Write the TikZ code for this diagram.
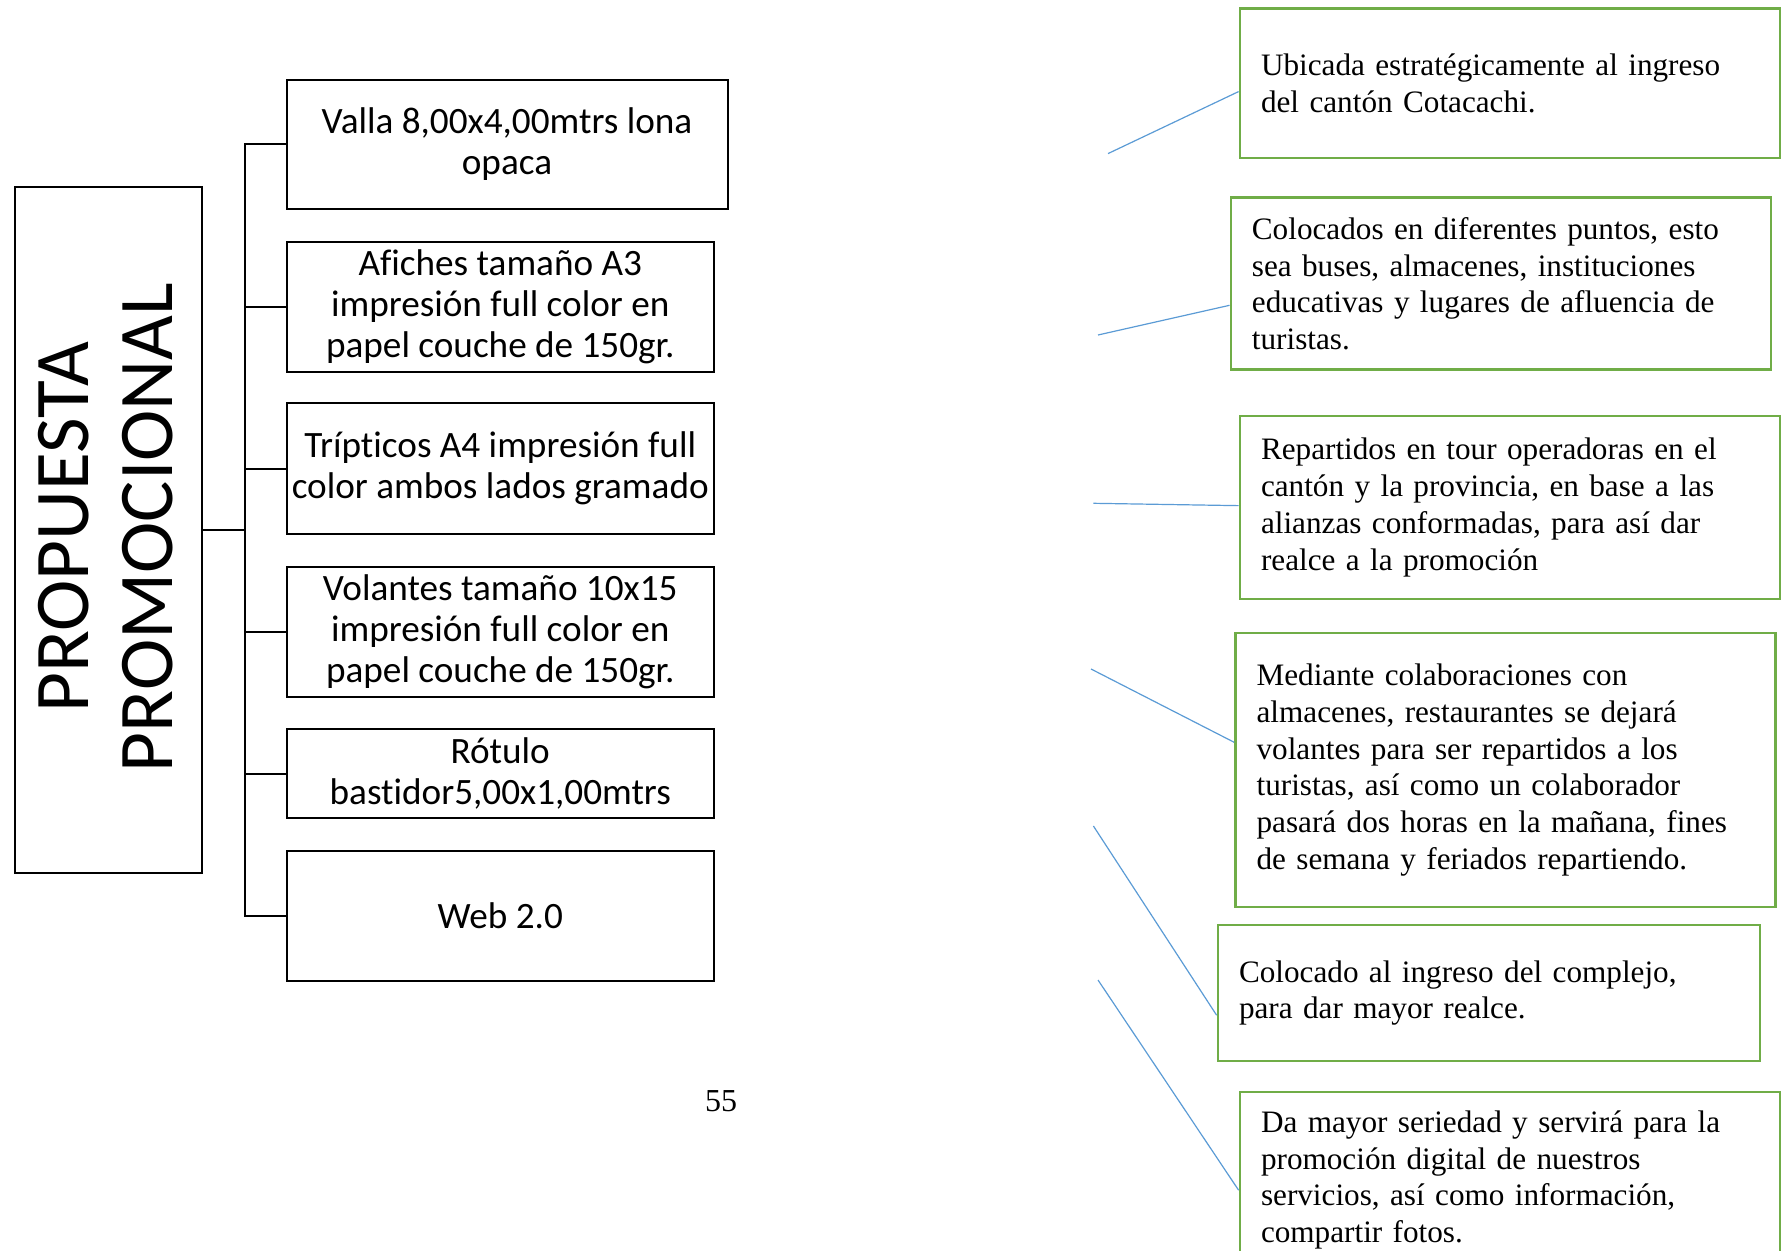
\documentclass[tikz,border=0pt]{standalone}
\usepackage{fontspec}
\setmainfont{Liberation Serif}
\newfontfamily\calibri[Ligatures=NoCommon]{Carlito}
\usetikzlibrary{calc}
\definecolor{notegreen}{RGB}{112,173,71}
\definecolor{leaderblue}{RGB}{91,155,213}
\tikzstyle{itembox} = [draw,line width=1pt,align=center,inner sep=1pt,font=\calibri\fontsize{18.6pt}{20.5pt}\selectfont]
\tikzstyle{notebox} = [draw=notegreen,line width=1.4pt,align=left,inner xsep=10.5pt,inner ysep=2pt,font=\fontsize{15.6pt}{18.35pt}\selectfont]
\tikzstyle{branch} = [line width=1pt]
\tikzstyle{leader} = [leaderblue,line width=0.6pt]

\begin{document}
\begin{tikzpicture}[x=0.5pt,y=0.5pt,yscale=-1]
\useasboundingbox (0,0) rectangle (1782,1251);
\clip (0,0) rectangle (1782,1251);

%Main box
\node[draw,line width=1pt,minimum width=93.5pt,minimum height=343pt] (prop) at (108.5,530) {};
\node[rotate=90,align=center,font=\calibri\fontsize{38.7pt}{42pt}\selectfont] (proptext) at (105.5,527.5) {PROPUESTA\\PROMOCIONAL};

%Items
\node[itembox,minimum width=220.5pt,minimum height=64.7pt] (valla) at (507,144.3) {Valla 8,00x4,00mtrs lona\\opaca};
\node[itembox,minimum width=213.75pt,minimum height=65pt] (afiches) at (500.25,306.6) {Afiches tamaño A3\\impresión full color en\\papel couche de 150gr.};
\node[itembox,minimum width=213.75pt,minimum height=65.25pt] (tripticos) at (500.25,468.75) {Trípticos A4 impresión full\\color ambos lados gramado};
\node[itembox,minimum width=213.75pt,minimum height=65pt] (volantes) at (500.25,631.6) {Volantes tamaño 10x15\\impresión full color en\\papel couche de 150gr.};
\node[itembox,minimum width=213.75pt,minimum height=44.5pt] (rotulo) at (500.25,773.8) {Rótulo\\bastidor5,00x1,00mtrs};
\node[itembox,minimum width=213.75pt,minimum height=65.25pt] (web) at (500.25,915.75) {Web 2.0};

%Tree lines
\coordinate (hub) at (244.5,530);
\draw[branch] (prop.east) -- (hub);
\foreach \item in {valla,afiches,tripticos,volantes,rotulo,web}
  \draw[branch] (hub) |- (\item.west);

%Notes
\node[notebox,text width=249pt,minimum height=74.8pt] (n1) at (1510,83.2) {Ubicada estratégicamente al ingreso\\del cantón Cotacachi.};
\node[notebox,text width=249pt,minimum height=86pt] (n2) at (1500.9,283.65) {Colocados en diferentes puntos, esto\\sea buses, almacenes, instituciones\\educativas y lugares de afluencia de\\turistas.};
\node[notebox,text width=249pt,minimum height=91.5pt] (n3) at (1510,507.5) {Repartidos en tour operadoras en el\\cantón y la provincia, en base a las\\alianzas conformadas, para así dar\\realce a la promoción};
\node[notebox,text width=249pt,minimum height=137pt] (n4) at (1505.6,770) {Mediante colaboraciones con\\almacenes, restaurantes se dejará\\volantes para ser repartidos a los\\turistas, así como un colaborador\\pasará dos horas en la mañana, fines\\de semana y feriados repartiendo.};
\node[notebox,text width=250pt,minimum height=68pt] (n5) at (1489,993) {Colocado al ingreso del complejo,\\para dar mayor realce.};
\node[notebox,text width=249pt,minimum height=88pt] (n6) at (1510,1180) {Da mayor seriedad y servirá para la\\promoción digital de nuestros\\servicios, así como información,\\compartir fotos.};

%Leader lines
\coordinate (s1) at (1108,153.6);
\coordinate (s2) at (1098,335);
\coordinate (s3) at (1093.4,503.3);
\coordinate (s4) at (1091,669);
\coordinate (s5) at (1093.4,826);
\coordinate (s6) at (1098,980);
\foreach \s/\n/\f in {s1/n1/0.555,s2/n2/0.624,s3/n3/0.49,s4/n4/0.40,s5/n5/0.66,s6/n6/0.557}
  \draw[leader] (\s) -- ($(\n.north west)!\f!(\n.south west)$);

% Text Node
\node[font=\fontsize{16pt}{18pt}\selectfont] (pagenum) at (721,1101) {55};

\end{tikzpicture}
\end{document}
